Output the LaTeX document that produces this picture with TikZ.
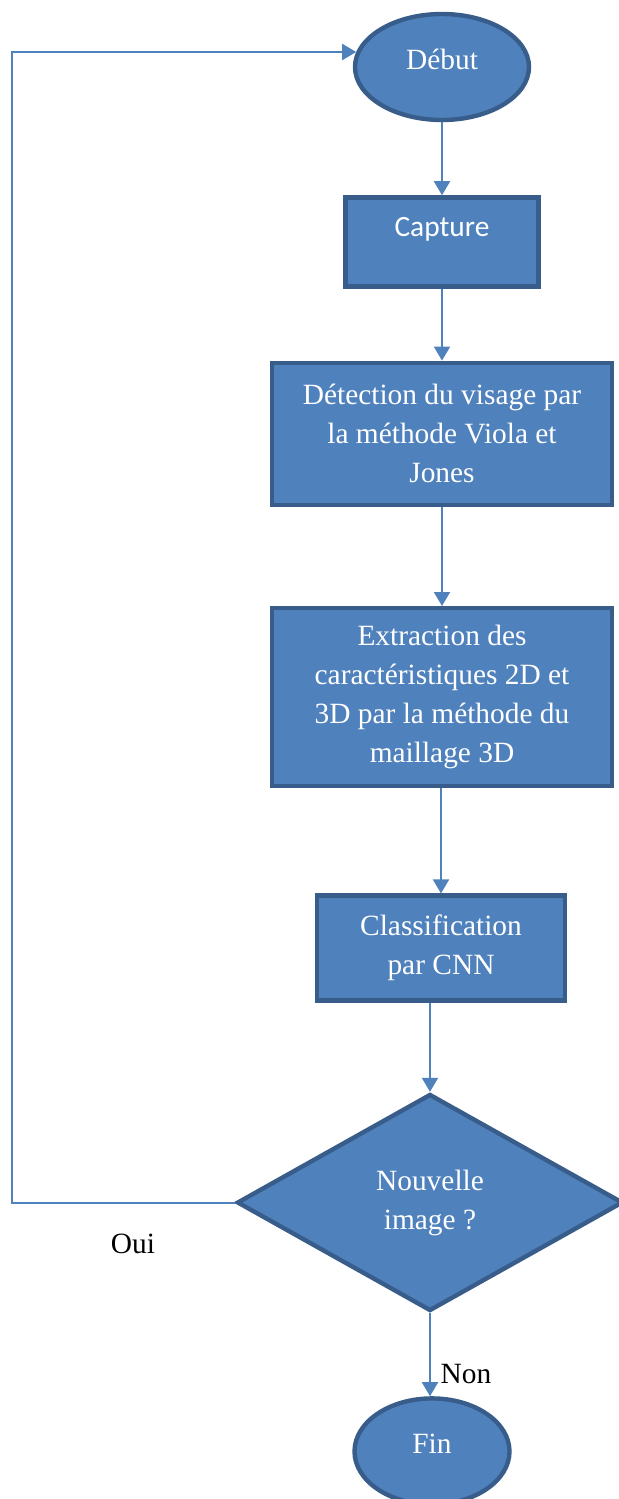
\documentclass[tikz,border=0pt]{standalone}
\usepackage{fontspec}
\setmainfont{Liberation Serif}
\newfontfamily\calibri{Carlito}
\usepackage{xcolor}
\definecolor{ofblue}{RGB}{79, 129, 189}
\definecolor{ofnavy}{RGB}{56,  93, 138}
\usepackage{tikz}
\usetikzlibrary{arrows.meta, positioning, shapes.geometric}

\begin{document}
\begin{tikzpicture}[
    x=0.5pt, y=-0.5pt,
    every node/.style={font=\fontsize{14.7}{19.5}\selectfont},
    box/.style={draw=ofnavy, line width=2.2pt, fill=ofblue, text=white,
                align=center, inner sep=0pt},
    term/.style={box, ellipse, text depth=8pt},
    decide/.style={box, diamond},
    arr/.style={-{Triangle[length=7pt, width=8pt]}, ofblue, line width=1pt}
  ]
  \useasboundingbox (0,0) rectangle (619,1499);

  \node[term, minimum width=87pt, minimum height=53pt] (debut) at (442,67) {Début};
  \node[box, below=36.5pt of debut, minimum width=96.5pt, minimum height=44.5pt,
        font=\calibri\fontsize{14.7}{19.5}\selectfont,
        text height=10pt, text depth=15pt] (capture) {Capture};
  \node[box, below=36pt of capture, minimum width=170pt, minimum height=71pt] (detect)
    {Détection du visage par\\la méthode Viola et\\Jones};
  \node[box, below=49.5pt of detect, minimum width=170pt, minimum height=89pt] (extract)
    {Extraction des\\caractéristiques 2D et\\3D par la méthode du\\maillage 3D};
  \node[box, below=52.5pt of extract, xshift=-0.5pt, minimum width=124pt,
        minimum height=52.5pt] (classif) {Classification\\par CNN};
  \node[decide, below=44.5pt of classif, xshift=-5.5pt, minimum width=193pt,
        minimum height=108.5pt] (dec) {Nouvelle\\image ?};
  \node[term, below=41.5pt of dec, xshift=1pt, minimum width=77.5pt,
        minimum height=53pt] (fin) {Fin};

  \coordinate (looptop) at (12,52);
  \node (oui) at (133,1244) {Oui};
  \node (non) at (466,1374) {Non};

  \draw[arr] (debut)   -- (capture);
  \draw[arr] (capture) -- (detect);
  \draw[arr] (detect)  -- (extract);
  \draw[arr] (extract.south -| classif.north) -- (classif.north);
  \draw[arr] (classif.south -| dec.north) -- (dec.north);
  \draw[arr] (dec.south) -- (dec.south |- fin.north);
  \draw[arr] (dec.west) -| (looptop) -- (looptop -| debut.170);
\end{tikzpicture}
\end{document}
